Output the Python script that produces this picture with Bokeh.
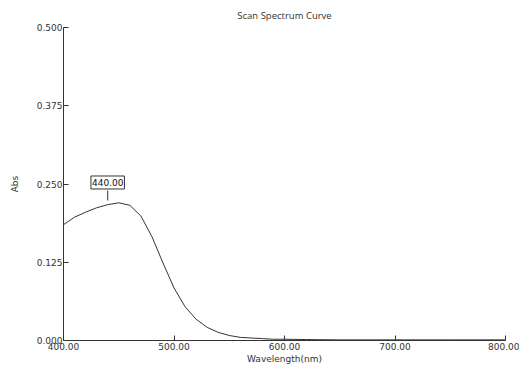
from bokeh.plotting import figure
from bokeh.models import Label, ColumnDataSource, FixedTicker
from bokeh.embed import file_html
from bokeh.resources import INLINE

wavelength = [400, 410, 420, 430, 440, 450, 460, 470, 480, 490, 500, 510, 520,
              530, 540, 550, 560, 570, 580, 590, 600, 620, 650, 700, 750, 800]
absorbance = [0.185, 0.197, 0.205, 0.212, 0.217, 0.220, 0.216, 0.199, 0.166,
              0.124, 0.084, 0.054, 0.034, 0.021, 0.013, 0.008, 0.005, 0.004,
              0.003, 0.002, 0.002, 0.0015, 0.001, 0.001, 0.001, 0.001]
x_ticks = [400, 500, 600, 700, 800]
y_ticks = [0.0, 0.125, 0.25, 0.375, 0.5]
peak_wl = 440.0
peak_label = "440.00"
title_text = "Scan Spectrum Curve"
x_title = "Wavelength(nm)"
y_title = "Abs"

p = figure(width=519, height=366, x_range=(400, 800), y_range=(0, 0.5),
           output_backend="svg", toolbar_location=None,
           min_border_left=63, min_border_right=14, min_border_top=27,
           min_border_bottom=26)
p.title.text = title_text
p.title.align = "center"
p.title.text_font = "Open Sans"
p.title.text_font_size = "9.5px"
p.title.text_font_style = "normal"
p.title.text_color = "#333333"
p.title.standoff = 12
p.title.offset = 0

p.grid.visible = False
p.outline_line_color = None

for ax in (p.xaxis[0], p.yaxis[0]):
    ax.major_tick_in = 5
    ax.major_tick_out = 0
    ax.minor_tick_in = 0
    ax.minor_tick_out = 0
    ax.axis_line_color = "#333333"
    ax.major_tick_line_color = "#333333"
    ax.major_label_text_font = "DejaVu Sans"
    ax.major_label_text_font_size = "9px"
    ax.major_label_text_color = "#333333"
    ax.axis_label_text_font = "DejaVu Sans"
    ax.axis_label_text_font_size = "9px"
    ax.axis_label_text_font_style = "normal"
    ax.axis_label_text_color = "#333333"

p.xaxis.ticker = FixedTicker(ticks=x_ticks)
p.xaxis.major_label_overrides = {t: f"{t:.2f}" for t in x_ticks}
p.xaxis.axis_label = x_title
p.xaxis.major_label_standoff = 2
p.xaxis.axis_label_standoff = 1

p.yaxis.ticker = FixedTicker(ticks=y_ticks)
p.yaxis.major_label_overrides = {t: f"{t:.3f}" for t in y_ticks}
p.yaxis.axis_label = y_title
p.yaxis.major_label_standoff = 1
p.yaxis.axis_label_standoff = 14

src = ColumnDataSource(dict(x=wavelength, y=absorbance))
p.line("x", "y", source=src, line_color="#333333", line_width=1)

p.segment(x0=[peak_wl], y0=[0.2236], x1=[peak_wl], y1=[0.2396],
          line_color="#333333", line_width=1)
p.add_layout(Label(x=peak_wl, y=0.2524, text=peak_label, text_align="center",
                   text_baseline="middle", text_font="DejaVu Sans",
                   text_font_size="9px", text_color="#111111",
                   border_line_color="#333333", border_line_width=1,
                   background_fill_color="white", padding=(1, 3)))

open("out.html", "w").write(file_html(p, INLINE))
